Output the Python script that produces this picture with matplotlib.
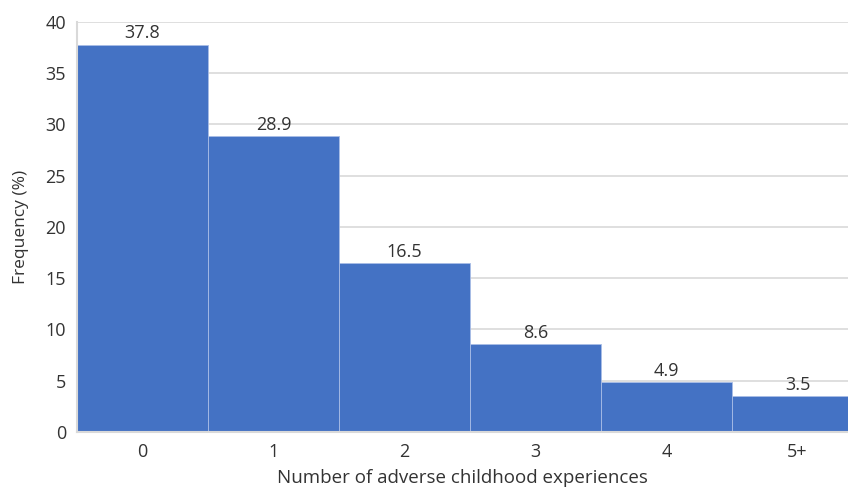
import numpy as np
import matplotlib.pyplot as plt

categories = ["0", "1", "2", "3", "4", "5+"]
freq = [37.8, 28.9, 16.5, 8.6, 4.9, 3.5]

plt.rcParams["font.family"] = ["Open Sans", "DejaVu Sans"]

fig = plt.figure(figsize=(8.48, 4.88), dpi=100)
ax = fig.add_axes([0.0908, 0.1148, 0.9092, 0.8402])

x = np.arange(len(categories))
bars = ax.bar(x, freq, width=1.0, color="#4472C4", edgecolor="#a9bde6",
              linewidth=0.6, zorder=2)
for xi, v in zip(x, freq):
    ax.text(xi, v + 0.2, f"{v}", ha="center", va="bottom", fontsize=13,
            color="#333333", zorder=3)

ax.set_xlim(-0.5, 5.386)
ax.set_ylim(0, 40)
ax.set_yticks(range(0, 41, 5))
ax.set_xticks(x)
ax.set_xticklabels(categories)
ax.yaxis.grid(True, color="#d9d9d9", linewidth=1.2, zorder=0)
ax.set_axisbelow(True)
for side in ["top", "right"]:
    ax.spines[side].set_visible(False)
for side in ["left", "bottom"]:
    ax.spines[side].set_color("#d9d9d9")
    ax.spines[side].set_linewidth(1.5)
    ax.spines[side].set_zorder(3)
ax.tick_params(length=0, labelsize=13, labelcolor="#333333", pad=8)
ax.set_ylabel("Frequency (%)", fontsize=12.5, color="#333333", labelpad=12)
ax.set_xlabel("Number of adverse childhood experiences", fontsize=13.5,
              color="#333333", labelpad=6)

fig.savefig("out.png", dpi=100)
